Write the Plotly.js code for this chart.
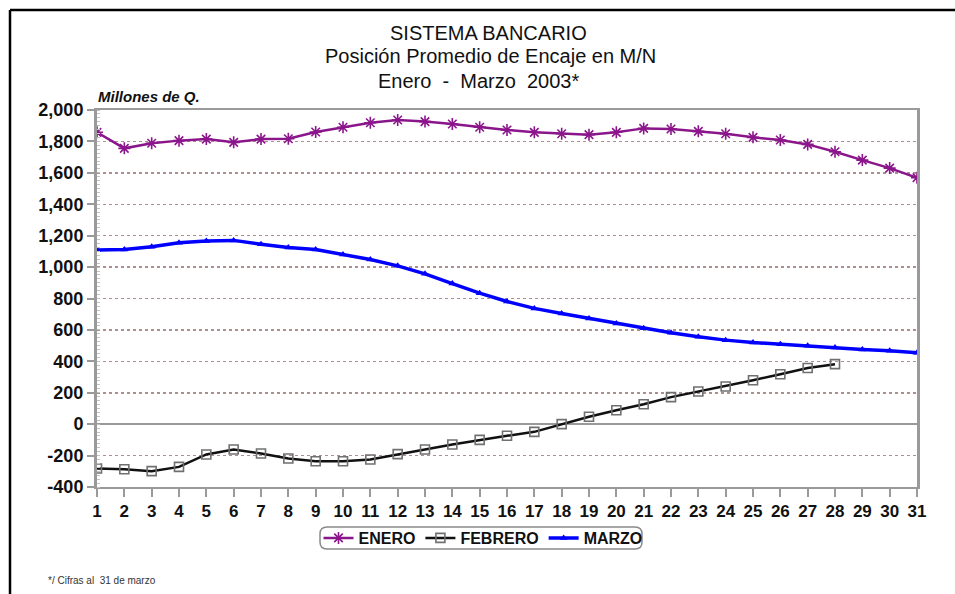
<!DOCTYPE html>
<html>
<head>
<meta charset="utf-8">
<script src="https://cdn.plot.ly/plotly-3.0.1.min.js"></script>
<style>
  html, body { margin: 0; padding: 0; background: #ffffff; }
  #chart { width: 955px; height: 594px; }
</style>
</head>
<body>
<div id="chart"></div>
<script>
// Días del mes (eje X)
const dias = [1,2,3,4,5,6,7,8,9,10,11,12,13,14,15,16,17,18,19,20,21,22,23,24,25,26,27,28,29,30,31];
const diasFebrero = dias.slice(0, 28);

// Posición promedio de encaje, millones de quetzales
const enero = [1858,1756,1788,1805,1815,1794,1815,1817,1860,1890,1919,1936,1926,1911,1890,1873,
               1858,1849,1843,1858,1883,1879,1864,1849,1826,1809,1781,1734,1681,1630,1569];
const febrero = [-282,-287,-299,-272,-193,-161,-187,-219,-236,-236,-225,-191,-161,-129,-100,-74,
                 -49,0,47,89,127,172,208,240,280,318,358,382];
const marzo = [1108,1112,1129,1155,1166,1170,1146,1125,1112,1080,1048,1008,957,895,834,781,
               737,705,673,641,610,582,556,535,520,508,499,488,476,467,454];

// Marcas del eje Y
const yTicks = [-400,-200,0,200,400,600,800,1000,1200,1400,1600,1800,2000];
const yTickText = ['-400','-200','0','200','400','600','800','1,000','1,200','1,400','1,600','1,800','2,000'];

const FONT = 'Liberation Sans, Arial, sans-serif';
const AXIS_GRAY = '#9a9a9a';

const traces = [
  {
    x: dias, y: enero, name: 'ENERO', type: 'scatter', mode: 'lines+markers',
    line: { color: '#8b168b', width: 2.5 },
    marker: { symbol: 'asterisk-open', size: 10, color: '#8b168b',
              line: { color: '#8b168b', width: 1.6 } }
  },
  {
    x: diasFebrero, y: febrero, name: 'FEBRERO', type: 'scatter', mode: 'lines+markers',
    line: { color: '#111111', width: 2.5 },
    marker: { symbol: 'square-open', size: 9, color: '#707070',
              line: { color: '#707070', width: 1.6 } }
  },
  {
    x: dias, y: marzo, name: 'MARZO', type: 'scatter', mode: 'lines+markers',
    line: { color: '#0000ff', width: 3.5 },
    marker: { symbol: 'triangle-up', size: 7, color: '#0000ff' }
  }
];

// Conversión de píxeles de la figura a coordenadas "paper"
const L = 97, R = 917, T = 110, B = 487;
const px = v => (v - L) / (R - L);
const py = v => (B - v) / (B - T);

// Recuadro redondeado de la leyenda
function roundedRect(x0, y0, x1, y1, r) {
  const a = px(x0), b = px(x1), top = py(y0), bot = py(y1);
  const rx = r / (R - L), ry = r / (B - T);
  return `M ${a + rx},${top} L ${b - rx},${top} Q ${b},${top} ${b},${top - ry} ` +
         `L ${b},${bot + ry} Q ${b},${bot} ${b - rx},${bot} L ${a + rx},${bot} ` +
         `Q ${a},${bot} ${a},${bot + ry} L ${a},${top - ry} Q ${a},${top} ${a + rx},${top} Z`;
}

const layout = {
  width: 955, height: 594,
  margin: { l: L, r: 955 - R, t: T, b: 594 - B, pad: 0 },
  paper_bgcolor: '#ffffff', plot_bgcolor: '#ffffff',
  font: { family: FONT, color: '#111111' },
  showlegend: true,
  legend: {
    orientation: 'h', x: px(483), y: py(538), xanchor: 'center', yanchor: 'middle',
    bgcolor: 'rgba(0,0,0,0)', borderwidth: 0,
    font: { family: FONT, size: 16, weight: 700, color: '#111111' },
    itemwidth: 30, tracegroupgap: 0
  },
  xaxis: {
    range: [1, 31], tickmode: 'array', tickvals: dias, ticktext: dias.map(String),
    showgrid: false, zeroline: false,
    showline: true, linecolor: AXIS_GRAY, linewidth: 2, mirror: true,
    ticks: 'outside', ticklen: 8, tickwidth: 2, tickcolor: AXIS_GRAY,
    tickfont: { family: FONT, size: 17, weight: 700, color: '#111111' }
  },
  yaxis: {
    range: [-400, 2000], tickmode: 'array', tickvals: yTicks, ticktext: yTickText,
    showgrid: true, gridcolor: '#ad8f8f', gridwidth: 1.5, griddash: '3px,3px',
    zeroline: true, zerolinecolor: AXIS_GRAY, zerolinewidth: 2,
    showline: true, linecolor: AXIS_GRAY, linewidth: 3, mirror: true,
    ticks: 'outside', ticklen: 7, tickwidth: 2, tickcolor: AXIS_GRAY,
    minor: { dtick: 25, ticks: 'inside', ticklen: 3, tickwidth: 1, tickcolor: '#c4c4c4', showgrid: false },
    tickfont: { family: FONT, size: 18, weight: 700, color: '#111111' }
  },
  annotations: [
    { text: 'SISTEMA BANCARIO', xref: 'paper', yref: 'paper', x: px(488), y: py(33),
      xanchor: 'center', yanchor: 'middle', showarrow: false,
      font: { family: FONT, size: 20, color: '#111111' } },
    { text: 'Posición Promedio de Encaje en M/N', xref: 'paper', yref: 'paper', x: px(490), y: py(56),
      xanchor: 'center', yanchor: 'middle', showarrow: false,
      font: { family: FONT, size: 20, color: '#111111' } },
    { text: 'Enero  -  Marzo  2003*', xref: 'paper', yref: 'paper', x: px(478), y: py(81),
      xanchor: 'center', yanchor: 'middle', showarrow: false,
      font: { family: FONT, size: 20, color: '#111111' } },
    { text: '<b><i>Millones de Q.</i></b>', xref: 'paper', yref: 'paper', x: px(96), y: py(97),
      xanchor: 'left', yanchor: 'middle', showarrow: false,
      font: { family: FONT, size: 15, color: '#111111' } },
    { text: '*/ Cifras al  31 de marzo', xref: 'paper', yref: 'paper', x: px(46), y: py(580),
      xanchor: 'left', yanchor: 'middle', showarrow: false,
      font: { family: FONT, size: 10, color: '#333333' } }
  ],
  shapes: [
    // marco exterior de la lámina
    { type: 'line', xref: 'paper', yref: 'paper', x0: px(10), x1: px(10), y0: py(10), y1: py(600),
      line: { color: '#000000', width: 2.5 } },
    { type: 'line', xref: 'paper', yref: 'paper', x0: px(10), x1: px(960), y0: py(10), y1: py(10),
      line: { color: '#000000', width: 2.5 } },
    // recuadro de la leyenda
    { type: 'path', xref: 'paper', yref: 'paper', path: roundedRect(320, 527, 642, 549, 7),
      line: { color: '#8a8a8a', width: 1.5 }, fillcolor: 'rgba(0,0,0,0)', layer: 'below' }
  ]
};

Plotly.newPlot('chart', traces, layout, { staticPlot: true, displayModeBar: false });
</script>
</body>
</html>
